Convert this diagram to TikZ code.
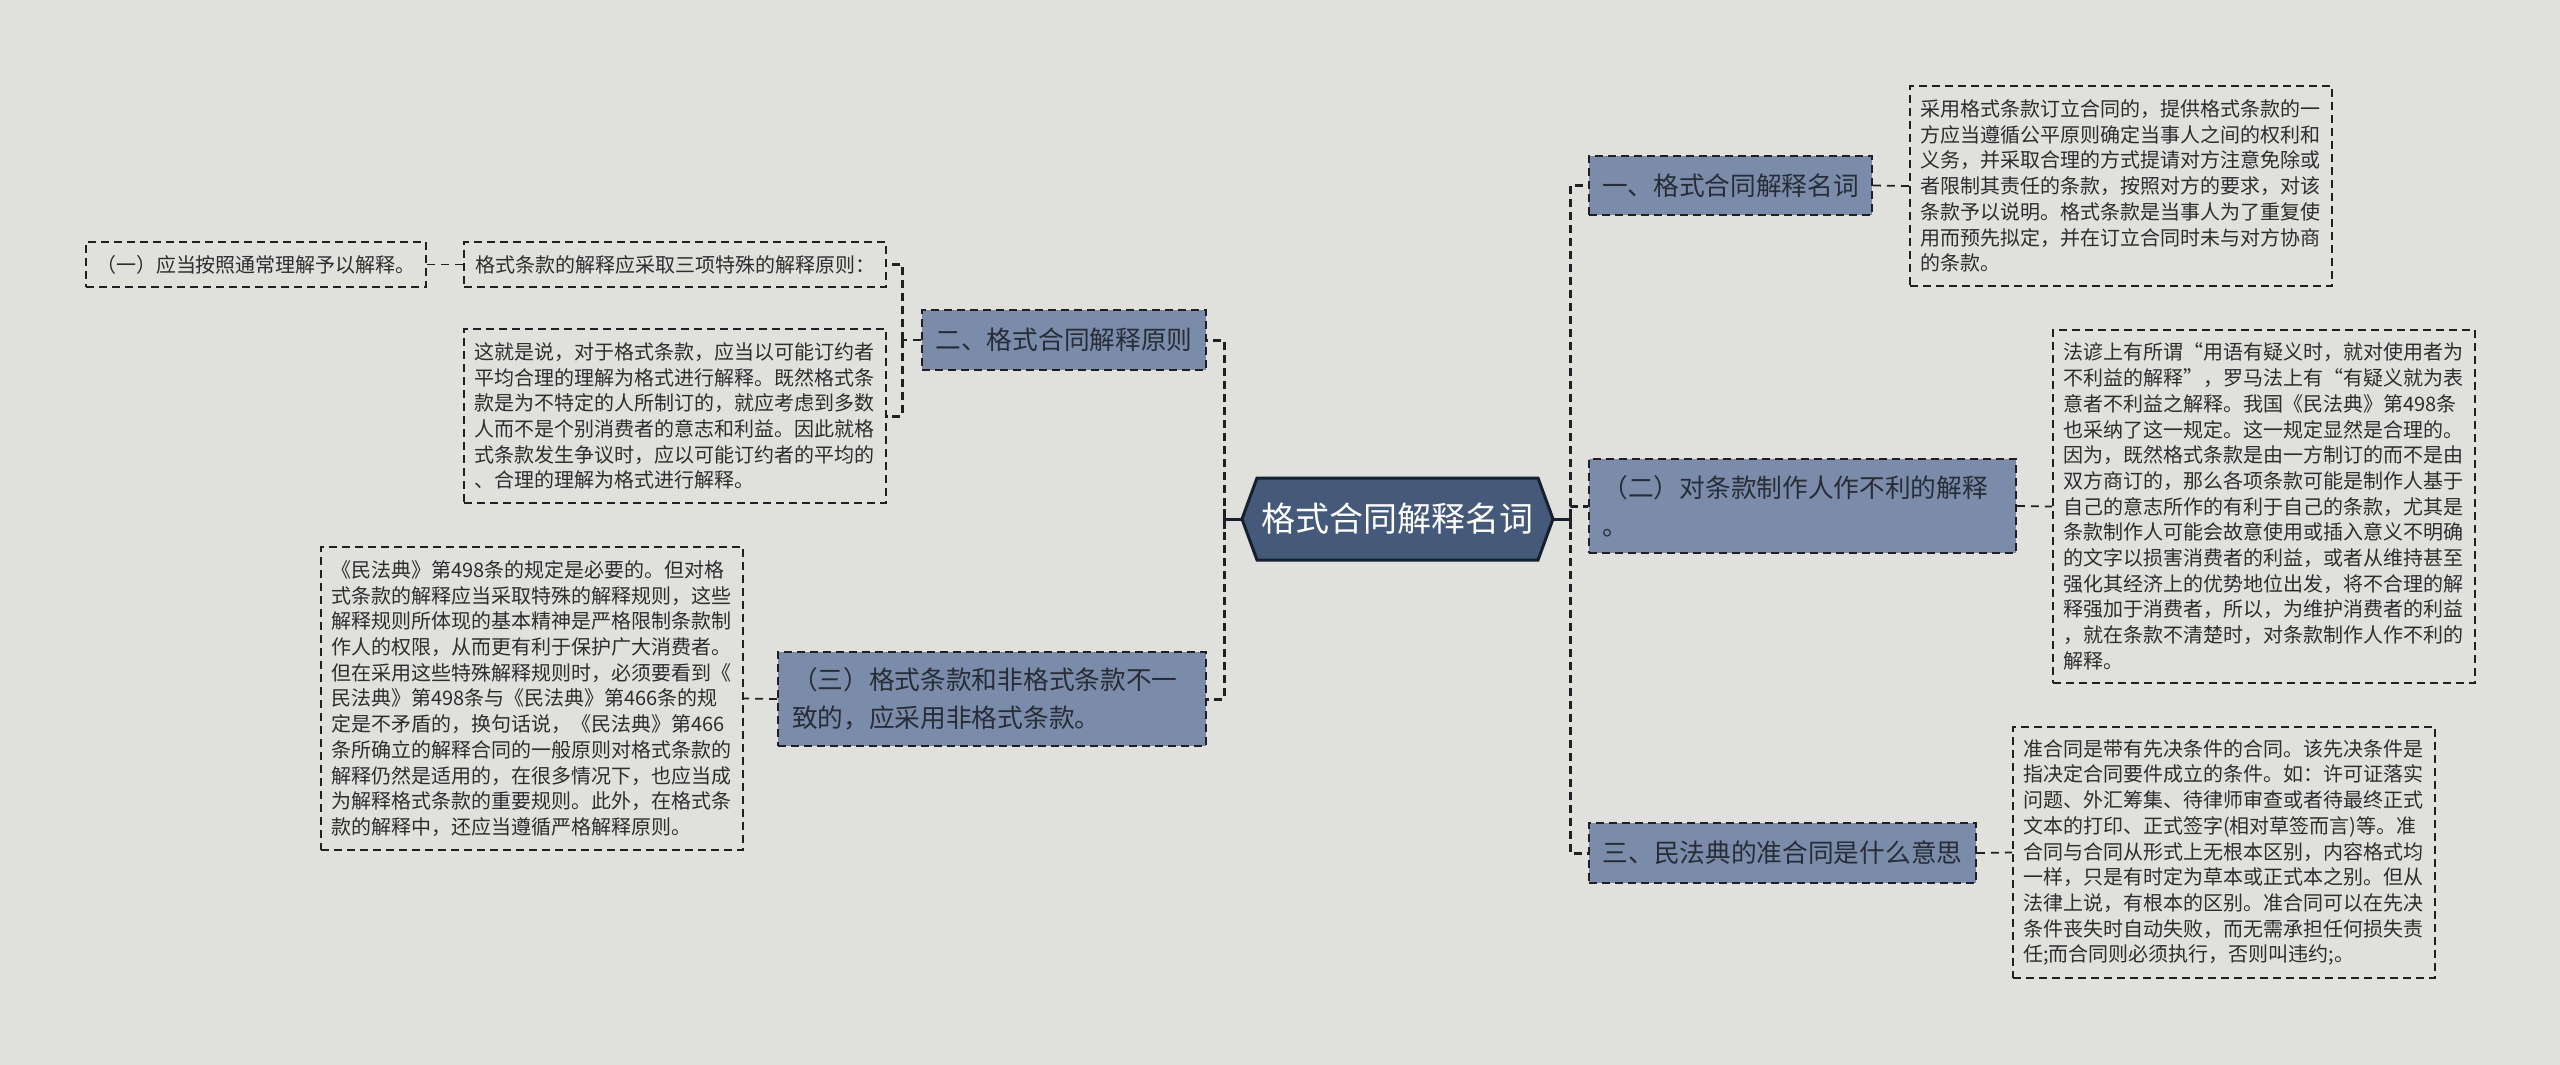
\documentclass[tikz,border=0pt]{standalone}
\usepackage{fontspec}
\newfontfamily\cjk{Noto Sans CJK SC}
\usetikzlibrary{calc}
\definecolor{bgc}{RGB}{224,225,220}
\definecolor{topicfill}{RGB}{122,140,170}
\definecolor{rootfill}{RGB}{69,90,122}
\definecolor{rootborder}{RGB}{22,32,46}
\definecolor{linec}{RGB}{32,32,36}
\definecolor{textc}{RGB}{45,45,48}
\definecolor{topictext}{RGB}{40,44,54}
\tikzset{
  leaf/.style={draw=linec, line width=0.9pt, dash pattern=on 4pt off 2.5pt, text=textc,
    font=\cjk\fontsize{10pt}{12.85pt}\selectfont, inner sep=0pt},
  para/.style={leaf, align=left, text width=201pt},
  topic/.style={draw=linec, fill=topicfill, line width=0.9pt, dash pattern=on 4pt off 2.5pt,
    text=topictext, font=\cjk\fontsize{12.85pt}{19pt}\selectfont, inner sep=0pt},
  spine/.style={draw=linec, line width=1.5pt, dash pattern=on 4pt off 2.5pt},
  link/.style={draw=linec, line width=0.9pt, dash pattern=on 4pt off 3pt},
  rootlink/.style={draw=rootborder, line width=1.5pt},
}
\begin{document}
\begin{tikzpicture}[x=0.5pt,y=-0.5pt]
\useasboundingbox (0,0) rectangle (2560,1065);
\fill[bgc] (0,0) rectangle (2560,1065);
% root hexagon
\coordinate (rootL) at (1242,519);
\coordinate (rootR) at (1553,519);
\filldraw[fill=rootfill, draw=rootborder, line width=1.5pt]
  (1257,478) -- (1538,478) -- (rootR) -- (1538,560) -- (1257,560) -- (rootL) -- cycle;
\node[font=\cjk\fontsize{17pt}{20pt}\selectfont, text=white, inner sep=0pt] (root) at (1397.5,519) {格式合同解释名词};
% right topics
\node[topic, minimum width=141.5pt, minimum height=29.5pt] (n1R) at (1730.5,185.5) {一、格式合同解释名词};
\node[topic, minimum width=213.5pt, minimum height=47pt, align=left, text width=200pt] (n2R) at (1802.5,506) {（二）对条款制作人作不利的解释\\。};
\node[topic, minimum width=193.5pt, minimum height=30pt] (n3R) at (1782.5,853) {三、民法典的准合同是什么意思};
% left topics
\node[topic, minimum width=142pt, minimum height=30pt] (n2L) at (1064,340) {二、格式合同解释原则};
\node[topic, minimum width=214pt, minimum height=47pt, align=left, text width=200pt] (n3L) at (992,699) {（三）格式条款和非格式条款不一\\致的，应采用非格式条款。};
% right leaves
\node[para, minimum width=211pt, minimum height=100pt] (box1) at (2121,186) {采用格式条款订立合同的，提供格式条款的一\\方应当遵循公平原则确定当事人之间的权利和\\义务，并采取合理的方式提请对方注意免除或\\者限制其责任的条款，按照对方的要求，对该\\条款予以说明。格式条款是当事人为了重复使\\用而预先拟定，并在订立合同时未与对方协商\\的条款。};
\node[para, minimum width=211pt, minimum height=176.5pt] (box2) at (2264,506.5) {法谚上有所谓“用语有疑义时，就对使用者为\\不利益的解释”，罗马法上有“有疑义就为表\\意者不利益之解释。我国《民法典》第498条\\也采纳了这一规定。这一规定显然是合理的。\\因为，既然格式条款是由一方制订的而不是由\\双方商订的，那么各项条款可能是制作人基于\\自己的意志所作的有利于自己的条款，尤其是\\条款制作人可能会故意使用或插入意义不明确\\的文字以损害消费者的利益，或者从维持甚至\\强化其经济上的优势地位出发，将不合理的解\\释强加于消费者，所以，为维护消费者的利益\\，就在条款不清楚时，对条款制作人作不利的\\解释。};
\node[para, minimum width=211pt, minimum height=125.5pt] (box3) at (2224,852.5) {准合同是带有先决条件的合同。该先决条件是\\指决定合同要件成立的条件。如：许可证落实\\问题、外汇筹集、待律师审查或者待最终正式\\文本的打印、正式签字(相对草签而言)等。准\\合同与合同从形式上无根本区别，内容格式均\\一样，只是有时定为草本或正式本之别。但从\\法律上说，有根本的区别。准合同可以在先决\\条件丧失时自动失败，而无需承担任何损失责\\任;而合同则必须执行，否则叫违约;。};
% left leaves
\node[leaf, minimum width=211pt, minimum height=22.5pt] (ba) at (675,264.5) {格式条款的解释应采取三项特殊的解释原则：};
\node[leaf, minimum width=170pt, minimum height=22.5pt] (b1) at (256,264.5) {（一）应当按照通常理解予以解释。};
\node[para, minimum width=211pt, minimum height=87pt] (bb) at (675,416) {这就是说，对于格式条款，应当以可能订约者\\平均合理的理解为格式进行解释。既然格式条\\款是为不特定的人所制订的，就应考虑到多数\\人而不是个别消费者的意志和利益。因此就格\\式条款发生争议时，应以可能订约者的平均的\\、合理的理解为格式进行解释。};
\node[para, minimum width=211pt, minimum height=151.5pt] (bc) at (532,698.5) {《民法典》第498条的规定是必要的。但对格\\式条款的解释应当采取特殊的解释规则，这些\\解释规则所体现的基本精神是严格限制条款制\\作人的权限，从而更有利于保护广大消费者。\\但在采用这些特殊解释规则时，必须要看到《\\民法典》第498条与《民法典》第466条的规\\定是不矛盾的，换句话说，《民法典》第466\\条所确立的解释合同的一般原则对格式条款的\\解释仍然是适用的，在很多情况下，也应当成\\为解释格式条款的重要规则。此外，在格式条\\款的解释中，还应当遵循严格解释原则。};
% root to spines
\coordinate (rsp) at (1570,519);
\coordinate (lsp) at (1224,519);
\draw[rootlink] (rootR) -- (rsp);
\draw[rootlink] ($(rsp)+(0,-10)$) -- ($(rsp)+(0,10)$);
\draw[rootlink] (rootL) -- (lsp);
\draw[rootlink] ($(lsp)+(0,-10)$) -- ($(lsp)+(0,10)$);
\draw[spine] (rsp) |- (n1R.west);
\draw[spine] (rsp) |- (n2R.west);
\draw[spine] (rsp) |- (n3R.west);
\draw[spine] (lsp) |- (n2L.east);
\draw[spine] (lsp) |- (n3L.east);
% topic to leaves
\draw[link] (n1R.east) -- (box1.west);
\draw[link] (n2R.east) -- (box2.west);
\draw[link] (n3R.east) -- (box3.west);
\draw[link] (n3L.west) -- (bc.east);
\draw[link] (n2L.west) -- ++(-19,0) coordinate (s2);
\draw[spine] (s2) |- (ba.east);
\draw[spine] (s2) |- (bb.east);
\draw[link] (ba.west) -- (b1.east);
\end{tikzpicture}
\end{document}
